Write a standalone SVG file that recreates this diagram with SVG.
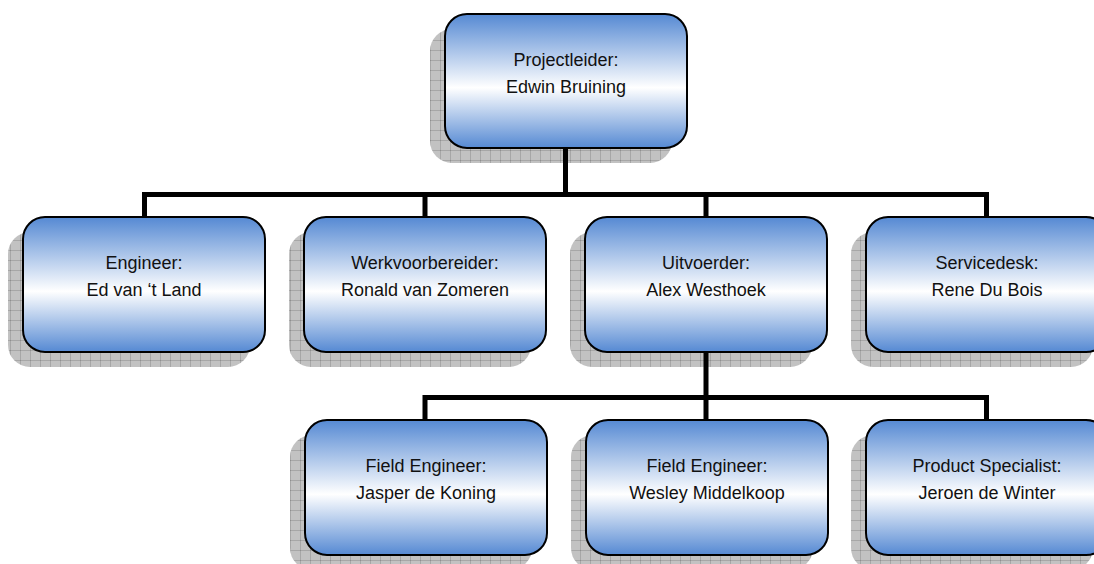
<svg xmlns="http://www.w3.org/2000/svg" width="1094" height="564" viewBox="0 0 1094 564">
  <style>
    .box { fill: url(#blueGrad); stroke: #000; stroke-width: 2; }
    .shadow { fill: url(#gridPat); }
    .lbl { font-family: "Liberation Sans", Arial, sans-serif; font-size: 18px; fill: #111; text-anchor: middle; }
    .conn { fill: none; stroke: #000; stroke-width: 5; stroke-linejoin: miter; }
  </style>
  <defs>
    <linearGradient id="blueGrad" x1="0" y1="0" x2="0" y2="1">
      <stop offset="0" stop-color="#5589d3"/>
      <stop offset="0.55" stop-color="#ffffff"/>
      <stop offset="1" stop-color="#5589d3"/>
    </linearGradient>
    <pattern id="gridPat" width="10" height="10" patternUnits="userSpaceOnUse">
      <rect width="10" height="10" fill="#000" fill-opacity="0.24"/>
      <path d="M0 0.5 H10 M0.5 0 V10" stroke="#000" stroke-opacity="0.14" stroke-width="1"/>
    </pattern>
  </defs>

  <g id="connectors">
    <path class="conn" d="M565.5 148 V194.5 M144.5 194.5 H986.5 M144.5 192 V217 M425 194.5 V217 M706 194.5 V217 M986.5 192 V217"/>
    <path class="conn" d="M706 352 V397.5 M425 397.5 H986.5 M425 395 V420 M706 397.5 V420 M986.5 395 V420"/>
  </g>

  <g id="projectleider">
    <rect class="shadow" x="430" y="29" width="242" height="134" rx="22"/>
    <rect class="box" x="445" y="14" width="242" height="134" rx="22"/>
    <text class="lbl" x="566" y="65.5">Projectleider:</text>
    <text class="lbl" x="566" y="92.5">Edwin Bruining</text>
  </g>

  <g id="engineer">
    <rect class="shadow" x="8" y="232" width="242" height="135" rx="22"/>
    <rect class="box" x="23" y="217" width="242" height="135" rx="22"/>
    <text class="lbl" x="144" y="269">Engineer:</text>
    <text class="lbl" x="144" y="296">Ed van ‘t Land</text>
  </g>

  <g id="werkvoorbereider">
    <rect class="shadow" x="289" y="232" width="242" height="135" rx="22"/>
    <rect class="box" x="304" y="217" width="242" height="135" rx="22"/>
    <text class="lbl" x="425" y="269">Werkvoorbereider:</text>
    <text class="lbl" x="425" y="296">Ronald van Zomeren</text>
  </g>

  <g id="uitvoerder">
    <rect class="shadow" x="570" y="232" width="242" height="135" rx="22"/>
    <rect class="box" x="585" y="217" width="242" height="135" rx="22"/>
    <text class="lbl" x="706" y="269">Uitvoerder:</text>
    <text class="lbl" x="706" y="296">Alex Westhoek</text>
  </g>

  <g id="servicedesk">
    <rect class="shadow" x="851" y="232" width="242" height="135" rx="22"/>
    <rect class="box" x="866" y="217" width="242" height="135" rx="22"/>
    <text class="lbl" x="987" y="269">Servicedesk:</text>
    <text class="lbl" x="987" y="296">Rene Du Bois</text>
  </g>

  <g id="field-engineer-1">
    <rect class="shadow" x="290" y="435" width="242" height="135" rx="22"/>
    <rect class="box" x="305" y="420" width="242" height="135" rx="22"/>
    <text class="lbl" x="426" y="472">Field Engineer:</text>
    <text class="lbl" x="426" y="499">Jasper de Koning</text>
  </g>

  <g id="field-engineer-2">
    <rect class="shadow" x="571" y="435" width="242" height="135" rx="22"/>
    <rect class="box" x="586" y="420" width="242" height="135" rx="22"/>
    <text class="lbl" x="707" y="472">Field Engineer:</text>
    <text class="lbl" x="707" y="499">Wesley Middelkoop</text>
  </g>

  <g id="product-specialist">
    <rect class="shadow" x="851" y="435" width="242" height="135" rx="22"/>
    <rect class="box" x="866" y="420" width="242" height="135" rx="22"/>
    <text class="lbl" x="987" y="472">Product Specialist:</text>
    <text class="lbl" x="987" y="499">Jeroen de Winter</text>
  </g>
</svg>
